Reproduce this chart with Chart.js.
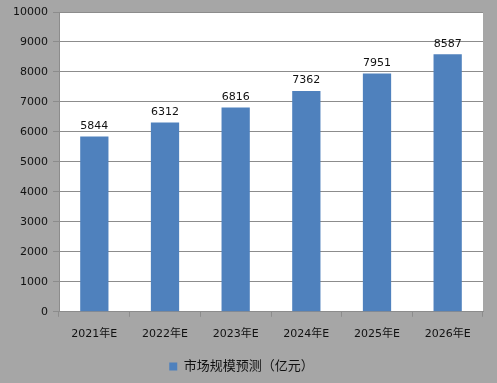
<!DOCTYPE html>
<html>
<head>
<meta charset="utf-8">
<script src="https://cdn.jsdelivr.net/npm/chart.js@4/dist/chart.umd.min.js"></script>
<style>
  html, body { margin: 0; padding: 0; background: #a6a6a6; }
  #wrap { width: 497px; height: 383px; position: relative; }
</style>
</head>
<body>
<div id="wrap"><canvas id="marketChart" width="497" height="383"></canvas></div>
<script>
// 연도별 시장 규모 예측 (억원 단위)
const years = ['2021年E', '2022年E', '2023年E', '2024年E', '2025年E', '2026年E'];
const marketSize = [5844, 6312, 6816, 7362, 7951, 8587];
const yTicks = [0, 1000, 2000, 3000, 4000, 5000, 6000, 7000, 8000, 9000, 10000];
const seriesName = '市场规模预测（亿元）';

const FONT = "'DejaVu Sans', 'Noto Sans CJK SC', sans-serif";

// 막대 위에 값 표시
const valueLabels = {
    id: 'valueLabels',
    afterDatasetsDraw(chart) {
        const ctx = chart.ctx;
        const meta = chart.getDatasetMeta(0);
        ctx.save();
        ctx.font = '11px ' + FONT;
        ctx.fillStyle = '#111';
        ctx.textAlign = 'center';
        ctx.textBaseline = 'bottom';
        meta.data.forEach((bar, i) => {
            ctx.fillText(marketSize[i], bar.x, bar.y - 5);
        });
        ctx.restore();
    }
};

// 플롯 영역 흰색 배경
const plotBg = {
    id: 'plotBg',
    beforeDraw(chart) {
        const a = chart.chartArea;
        chart.ctx.save();
        chart.ctx.fillStyle = '#ffffff';
        chart.ctx.fillRect(a.left, a.top, a.right - a.left, a.bottom - a.top);
        chart.ctx.restore();
    }
};

new Chart(document.getElementById('marketChart'), {
    type: 'bar',
    data: {
        labels: years,
        datasets: [{
            label: seriesName,
            data: marketSize,
            backgroundColor: '#4f81bd',
            categoryPercentage: 0.8,
            barPercentage: 0.5
        }]
    },
    options: {
        responsive: false,
        animation: false,
        layout: { padding: { top: 12, right: 14, left: 0, bottom: 0 } },
        plugins: {
            legend: {
                position: 'bottom',
                labels: {
                    font: { family: FONT, size: 13 },
                    color: '#111',
                    boxWidth: 8,
                    boxHeight: 8,
                    padding: 8
                }
            },
            tooltip: { enabled: false }
        },
        scales: {
            x: {
                grid: {
                    display: true,
                    drawOnChartArea: false,
                    offset: true,
                    tickLength: 5,
                    color: '#8c8c8c'
                },
                border: { color: '#8c8c8c' },
                ticks: {
                    font: { family: FONT, size: 11 },
                    color: '#111',
                    padding: 11
                }
            },
            y: {
                min: 0,
                max: 10000,
                afterBuildTicks(scale) {
                    scale.ticks = yTicks.map(v => ({ value: v }));
                },
                afterFit(scale) { scale.width = 59; },
                grid: { color: '#8c8c8c', tickLength: 6 },
                border: { color: '#8c8c8c' },
                ticks: {
                    font: { family: FONT, size: 11 },
                    color: '#111',
                    padding: 5,
                    callback: v => String(v)
                }
            }
        }
    },
    plugins: [plotBg, valueLabels]
});
</script>
</body>
</html>
